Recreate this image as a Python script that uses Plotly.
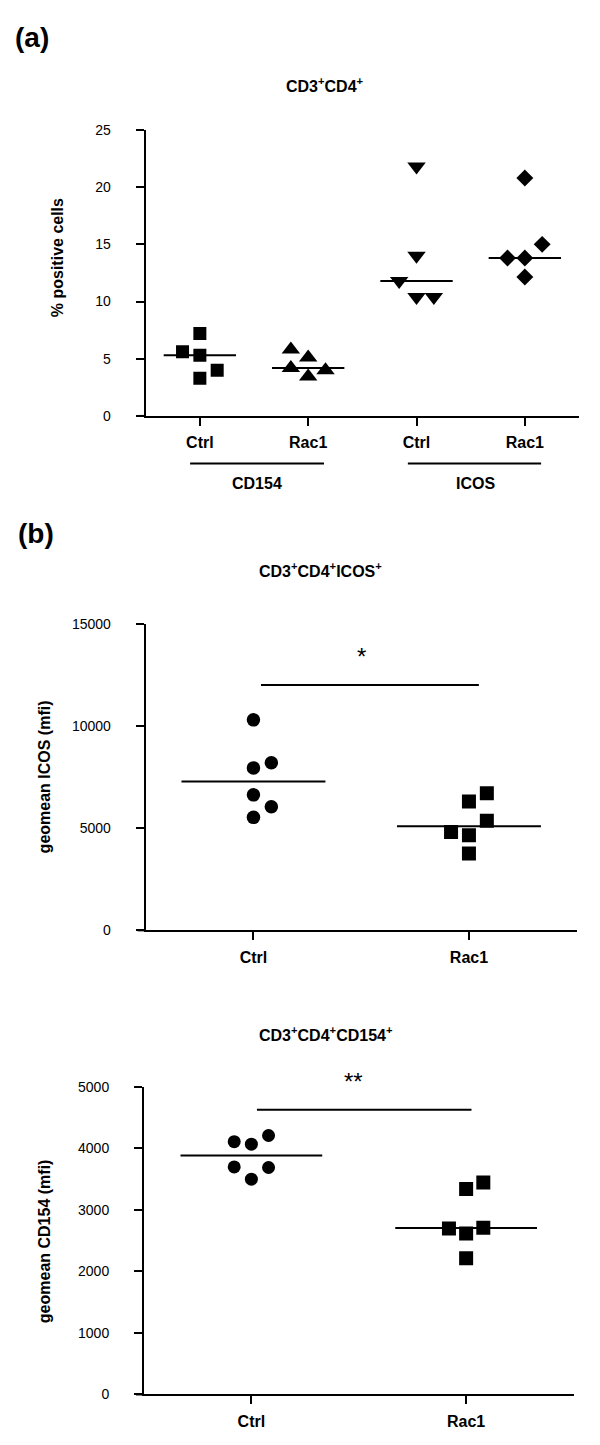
import numpy as np
import plotly.graph_objects as go

W, H = 600, 1445
FONT = "Liberation Sans, Arial, sans-serif"

# ---------------- data ----------------
# Panel (a): % positive cells within CD3+CD4+
a_tick_labels = ["Ctrl", "Rac1", "Ctrl", "Rac1"]
a_group_labels = ["CD154", "ICOS"]
a_cd154_ctrl = [5.6, 7.2, 5.3, 4.0, 3.3]
a_cd154_rac1 = [5.8, 5.1, 4.2, 3.45, 4.0]
a_icos_ctrl = [21.8, 14.0, 11.8, 10.4, 10.4]
a_icos_rac1 = [20.8, 15.0, 13.8, 13.8, 12.15]
a_yticks = [0, 5, 10, 15, 20, 25]

# Panel (b) top: geomean ICOS (mfi) in CD3+CD4+ICOS+
b1_tick_labels = ["Ctrl", "Rac1"]
b1_ctrl = [10300, 7950, 8200, 6630, 6050, 5530]
b1_rac1 = [6710, 6310, 5370, 4810, 4650, 3760]
b1_yticks = [0, 5000, 10000, 15000]

# Panel (b) bottom: geomean CD154 (mfi) in CD3+CD4+CD154+
b2_tick_labels = ["Ctrl", "Rac1"]
b2_ctrl = [4110, 4070, 4210, 3700, 3690, 3500]
b2_rac1 = [3445, 3340, 2700, 2710, 2615, 2215]
b2_yticks = [0, 1000, 2000, 3000, 4000, 5000]

# ---------------- styling (scatter slots for point spreading) ----------------
a_slots = [[-1, 0, 0, 1, 0], [-1, 0, -1, 0, 1], [0, 0, -1, 0, 1], [0, 1, -1, 0, 0]]
b1_slots = [[0, 0, 1, 0, 1, 0], [1, 0, 1, -1, 0, 0]]
b2_slots = [[-1, 0, 1, -1, 1, 0], [1, 0, -1, 1, 0, 0]]


def px_x(p):
    return p / W


def px_y(p):
    return 1 - p / H


fig = go.Figure()

a_series = [a_cd154_ctrl, a_cd154_rac1, a_icos_ctrl, a_icos_rac1]
a_symbols = ["square", "triangle-up", "triangle-down", "diamond"]
a_sizes = [13, 16, 16, 13]
for i, vals in enumerate(a_series):
    xs = [i + 0.16 * s for s in a_slots[i]]
    fig.add_trace(go.Scatter(x=xs, y=vals, mode="markers", xaxis="x", yaxis="y",
                             marker=dict(symbol=a_symbols[i], size=a_sizes[i], color="black"),
                             showlegend=False, hoverinfo="skip"))

for i, vals in enumerate([b1_ctrl, b1_rac1]):
    xs = [i + 0.083 * s for s in b1_slots[i]]
    fig.add_trace(go.Scatter(x=xs, y=vals, mode="markers", xaxis="x2", yaxis="y2",
                             marker=dict(symbol=["circle", "square"][i], size=[13.5, 14][i], color="black"),
                             showlegend=False, hoverinfo="skip"))

for i, vals in enumerate([b2_ctrl, b2_rac1]):
    xs = [i + 0.08 * s for s in b2_slots[i]]
    fig.add_trace(go.Scatter(x=xs, y=vals, mode="markers", xaxis="x3", yaxis="y3",
                             marker=dict(symbol=["circle", "square"][i], size=[13, 14][i], color="black"),
                             showlegend=False, hoverinfo="skip"))

shapes = []
LINE = dict(color="black", width=2)
for i, vals in enumerate(a_series):
    m = float(np.median(vals))
    shapes.append(dict(type="line", xref="x", yref="y", x0=i - 0.334, x1=i + 0.334, y0=m, y1=m, line=LINE))
for i, vals in enumerate([b1_ctrl, b1_rac1]):
    m = float(np.median(vals))
    shapes.append(dict(type="line", xref="x2", yref="y2", x0=i - 0.334, x1=i + 0.334, y0=m, y1=m, line=LINE))
for i, vals in enumerate([b2_ctrl, b2_rac1]):
    m = float(np.median(vals))
    shapes.append(dict(type="line", xref="x3", yref="y3", x0=i - 0.33, x1=i + 0.33, y0=m, y1=m, line=LINE))

# significance bars
shapes.append(dict(type="line", xref="x2", yref="y2", x0=0.035, x1=1.046, y0=12000, y1=12000, line=LINE))
shapes.append(dict(type="line", xref="x3", yref="y3", x0=0.026, x1=1.025, y0=4630, y1=4630, line=LINE))

# group lines under panel a
shapes.append(dict(type="line", xref="x", yref="paper", x0=-0.09, x1=1.146,
                   y0=px_y(460.7), y1=px_y(460.7), line=LINE))
shapes.append(dict(type="line", xref="x", yref="paper", x0=1.92, x1=3.15,
                   y0=px_y(460.7), y1=px_y(460.7), line=LINE))

# small x-axis extensions left of the y axis (Prism style)
for xl, yb in [(145.7, 412.5), (145.7, 932.7), (144.0, 1402.0)]:
    shapes.append(dict(type="line", xref="paper", yref="paper", x0=px_x(xl - 8), x1=px_x(xl),
                       y0=px_y(yb), y1=px_y(yb), line=LINE))

ann = []


def txt(x, y, text, size, bold=True, xref="paper", yref="paper", angle=0, xanchor="center"):
    t = f"<b>{text}</b>" if bold else text
    ann.append(dict(x=x, y=y, xref=xref, yref=yref, text=t, showarrow=False, textangle=angle,
                    xanchor=xanchor, yanchor="middle", font=dict(family=FONT, size=size, color="black")))


txt(px_x(13), px_y(30), "(a)", 28, xanchor="left")
txt(px_x(16), px_y(531), "(b)", 28, xanchor="left")
txt(px_x(324.5), px_y(78), "CD3<sup>+</sup>CD4<sup>+</sup>", 16)
txt(px_x(320), px_y(568), "CD3<sup>+</sup>CD4<sup>+</sup>ICOS<sup>+</sup>", 16)
txt(px_x(326), px_y(1037), "CD3<sup>+</sup>CD4<sup>+</sup>CD154<sup>+</sup>", 16)
txt(px_x(57), px_y(253), "% positive cells", 16, angle=-90)
txt(px_x(44), px_y(778), "geomean ICOS (mfi)", 16, angle=-90)
txt(px_x(44), px_y(1247), "geomean CD154 (mfi)", 16, angle=-90)
txt(0.53, px_y(481), a_group_labels[0], 16, xref="x")
txt(2.54, px_y(481), a_group_labels[1], 16, xref="x")
txt(0.5, px_y(656), "*", 24, bold=False, xref="x2")
txt(0.474, px_y(1086), "**", 24, bold=False, xref="x3")

common_x = dict(showline=True, linewidth=2, linecolor="black", ticks="outside", ticklen=8, tickwidth=2,
                tickcolor="black", showgrid=False, zeroline=False, fixedrange=True,
                tickfont=dict(family=FONT, size=16, color="black", weight="bold"), ticklabelstandoff=3)
common_y = dict(showline=True, linewidth=2, linecolor="black", ticks="outside", ticklen=8, tickwidth=2,
                tickcolor="black", showgrid=False, zeroline=False, fixedrange=True,
                tickfont=dict(family=FONT, size=14, color="black"), ticklabelstandoff=22)

fig.update_layout(
    width=W, height=H, margin=dict(l=0, r=0, t=0, b=0),
    paper_bgcolor="white", plot_bgcolor="white", showlegend=False,
    xaxis=dict(common_x, domain=[px_x(145.7), px_x(579)], range=[-0.5, 3.5], anchor="y",
               tickvals=[0, 1, 2, 3], ticktext=a_tick_labels),
    yaxis=dict(common_y, domain=[px_y(412.5), px_y(123.3)], range=[0, 25], anchor="x",
               tickvals=a_yticks, ticktext=[str(v) for v in a_yticks]),
    xaxis2=dict(common_x, domain=[px_x(145.7), px_x(576.7)], range=[-0.5, 1.5], anchor="y2",
                tickvals=[0, 1], ticktext=b1_tick_labels),
    yaxis2=dict(common_y, domain=[px_y(932.7), px_y(622.7)], range=[0, 15000], anchor="x2",
                tickvals=b1_yticks, ticktext=[str(v) for v in b1_yticks]),
    xaxis3=dict(common_x, domain=[px_x(144.0), px_x(573.5)], range=[-0.5, 1.5], anchor="y3",
                tickvals=[0, 1], ticktext=b2_tick_labels),
    yaxis3=dict(common_y, domain=[px_y(1402), px_y(1091)], range=[0, 5000], anchor="x3",
                tickvals=b2_yticks, ticktext=[str(v) for v in b2_yticks]),
    shapes=shapes, annotations=ann,
)

fig.write_html("out.html", config={"displayModeBar": False},
               post_script="document.body.style.margin='0';document.body.style.overflow='hidden';")
